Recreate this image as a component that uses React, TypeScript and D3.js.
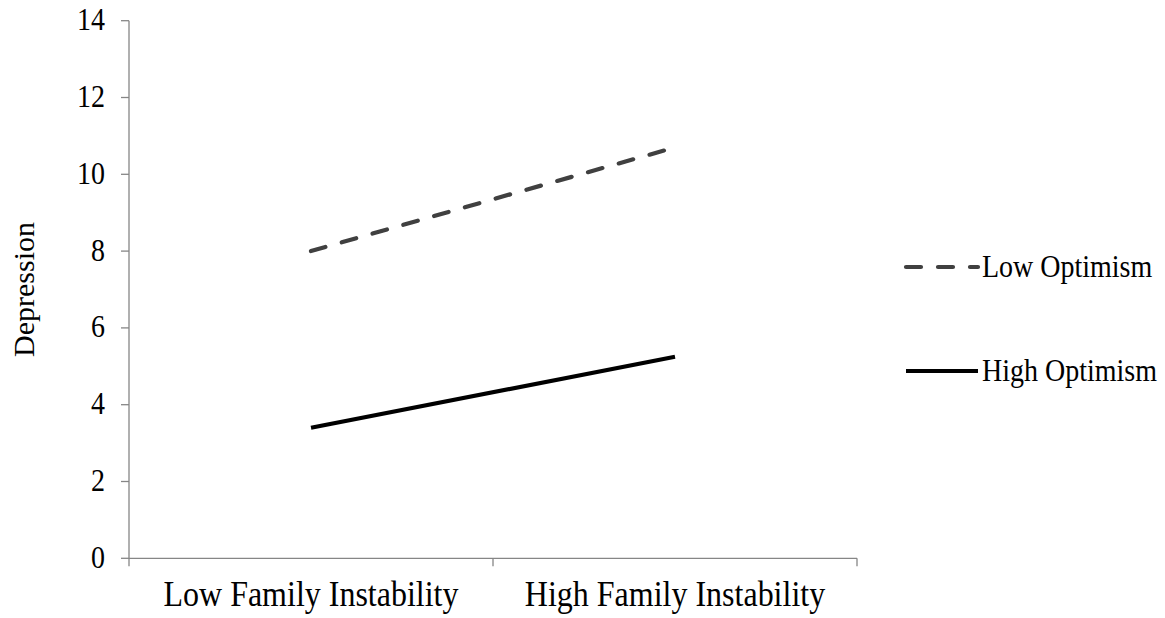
import React from "react";
import * as d3 from "d3";

const categories = ["Low Family Instability", "High Family Instability"];
const lowOptimism = [8.0, 10.7];
const highOptimism = [3.4, 5.25];
const yTicks = [0, 2, 4, 6, 8, 10, 12, 14];
const seriesNames = ["Low Optimism", "High Optimism"];

const W = 1165;
const H = 618;
const FONT = "'Liberation Serif', 'Times New Roman', serif";
const SY = 1.1;

export default function App() {
  const x0 = 129, x1 = 857;
  const y = d3.scaleLinear().domain([0, 14]).range([558.3, 20.7]);
  const xb = d3.scaleBand().domain(categories).range([x0, x1]);
  const cx = (c: string) => (xb(c) as number) + xb.bandwidth() / 2;
  const line = d3
    .line<number>()
    .x((_, i) => cx(categories[i]))
    .y((d) => y(d));

  const series = [
    { name: seriesNames[0], values: lowOptimism, color: "#404040", dash: "15,17", ly: 267 },
    { name: seriesNames[1], values: highOptimism, color: "#000000", dash: "", ly: 371 },
  ];

  return (
    <svg width={W} height={H} style={{ position: "absolute", left: 0, top: 0, background: "#fff" }} fontFamily={FONT}>
      {/* y axis */}
      <line x1={x0} x2={x0} y1={y(14)} y2={y(0)} stroke="#868686" strokeWidth={1.3} />
      {yTicks.map((t) => (
        <g key={t}>
          <line x1={x0 - 8} x2={x0} y1={y(t)} y2={y(t)} stroke="#868686" strokeWidth={1.3} />
          <text transform={`translate(105, ${y(t) + 9.5}) scale(1, ${SY})`} textAnchor="end" fontSize={28} fill="#000">
            {t}
          </text>
        </g>
      ))}
      {/* x axis */}
      <line x1={x0} x2={x1} y1={y(0)} y2={y(0)} stroke="#868686" strokeWidth={1.3} />
      {[x0, x0 + xb.bandwidth(), x1].map((tx, i) => (
        <line key={i} x1={tx} x2={tx} y1={y(0)} y2={y(0) + 8} stroke="#868686" strokeWidth={1.3} />
      ))}
      {categories.map((c) => (
        <text key={c} transform={`translate(${cx(c)}, 606) scale(1, ${SY})`} textAnchor="middle" fontSize={32} fill="#000">
          {c}
        </text>
      ))}
      <text transform={`translate(34, ${(y(0) + y(14)) / 2}) rotate(-90)`} textAnchor="middle" fontSize={30} fill="#000">
        Depression
      </text>
      {series.map((s) => (
        <g key={s.name}>
          <path d={line(s.values) as string} fill="none" stroke={s.color} strokeWidth={4.2} strokeDasharray={s.dash || undefined} strokeLinecap={s.dash ? "round" : "butt"} />
          <line x1={906} x2={978} y1={s.ly} y2={s.ly} stroke={s.color} strokeWidth={4.2} strokeDasharray={s.dash || undefined} strokeLinecap={s.dash ? "round" : "butt"} />
          <text transform={`translate(982, ${s.ly + 10}) scale(1, ${SY})`} fontSize={28} fill="#000">
            {s.name}
          </text>
        </g>
      ))}
    </svg>
  );
}
